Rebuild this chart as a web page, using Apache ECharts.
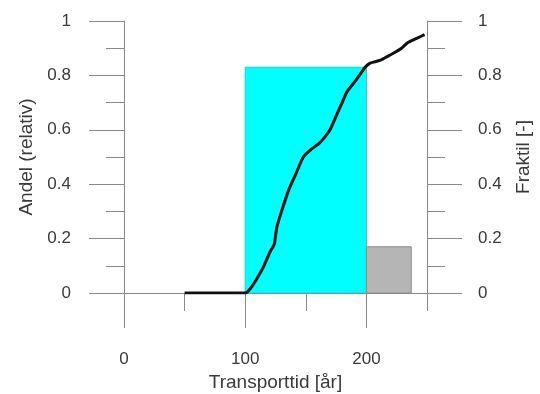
<!DOCTYPE html>
<html lang="no">
<head>
<meta charset="UTF-8">
<title>Transporttid</title>
<script src="https://cdn.jsdelivr.net/npm/echarts@6/dist/echarts.min.js"></script>
<style>
  html, body { margin: 0; padding: 0; background: #fff; }
  #main { width: 540px; height: 394px; }
</style>
</head>
<body>
<div id="main"></div>
<script>
// histogram bins (relative share)
var binStart = [100, 200];
var binEnd = [200, 237];
var binHeight = [0.83, 0.17];

// cumulative curve (fractile)
var curveX = [50, 100, 104, 109, 115, 120, 124, 126, 130, 136, 142, 148, 155, 161, 166, 170, 175, 180, 184, 191, 199, 203, 207, 211, 215, 220, 224, 229, 234, 241, 248];
var curveY = [0, 0, 0.015, 0.048, 0.095, 0.147, 0.18, 0.24, 0.30, 0.38, 0.44, 0.50, 0.53, 0.55, 0.575, 0.60, 0.65, 0.70, 0.74, 0.78, 0.83, 0.845, 0.85, 0.855, 0.864, 0.876, 0.886, 0.90, 0.92, 0.935, 0.95];

var xMajor = [0, 100, 200];
var xMinor = [50, 150, 250];

var axisGray = '#8a8a8a';
var textCol = '#3a3a3a';
var font = 'Liberation Sans';

var chart = echarts.init(document.getElementById('main'));

var curveData = [];
for (var i = 0; i < curveX.length; i++) {
	curveData.push([curveX[i], curveY[i]]);
}
var binData = [];
for (var j = 0; j < binStart.length; j++) {
	binData.push([binStart[j], binEnd[j], binHeight[j]]);
}
var binFill = ['#00ffff', '#b5b5b5'];
var binLine = ['#2bc4c4', '#8c8c8c'];

function yAxisCfg(pos, name) {
	return {
		type: 'value',
		position: pos,
		min: 0,
		max: 1,
		interval: 0.2,
		name: name,
		nameLocation: 'middle',
		nameGap: pos === 'left' ? 88 : 87,
		nameRotate: 90,
		nameTextStyle: { fontFamily: font, fontSize: 19, color: textCol },
		axisLine: { show: true, onZero: false, lineStyle: { color: axisGray, width: 1 } },
		axisTick: { show: true, length: 35, lineStyle: { color: axisGray } },
		minorTick: { show: true, splitNumber: 2, length: 18, lineStyle: { color: axisGray } },
		axisLabel: {
			margin: pos === 'left' ? 53 : 51,
			fontFamily: font, fontSize: 17, color: textCol,
			formatter: function (v) { return String(Math.round(v * 10) / 10); }
		},
		splitLine: { show: false },
		minorSplitLine: { show: false }
	};
}

var option = {
	animation: false,
	grid: { left: 124, right: 113, top: 21, bottom: 101, outerBoundsMode: 'none' },
	xAxis: [
		{
			type: 'value',
			position: 'bottom',
			min: 0,
			max: 250,
			interval: 100,
			name: 'Transporttid [år]',
			nameLocation: 'middle',
			nameGap: 78,
			nameTextStyle: { fontFamily: font, fontSize: 19, color: textCol },
			axisLine: { show: true, onZero: false, lineStyle: { color: axisGray, width: 1 } },
			axisTick: { show: true, length: 35, customValues: xMajor, lineStyle: { color: axisGray } },
			axisLabel: { customValues: xMajor, margin: 58, fontFamily: font, fontSize: 17, color: textCol },
			splitLine: { show: false }
		},
		{
			type: 'value',
			position: 'bottom',
			min: 0,
			max: 250,
			interval: 50,
			axisLine: { show: false, onZero: false },
			axisTick: { show: true, length: 18, customValues: xMinor, lineStyle: { color: axisGray } },
			axisLabel: { show: false },
			splitLine: { show: false }
		}
	],
	yAxis: [
		yAxisCfg('left', 'Andel (relativ)'),
		yAxisCfg('right', 'Fraktil [-]')
	],
	series: [
		{
			type: 'custom',
			xAxisIndex: 0,
			yAxisIndex: 0,
			z: 1,
			data: binData,
			renderItem: function (params, api) {
				var p0 = api.coord([api.value(0), 0]);
				var p1 = api.coord([api.value(1), api.value(2)]);
				return {
					type: 'rect',
					shape: { x: p0[0], y: p1[1], width: p1[0] - p0[0], height: p0[1] - p1[1] },
					style: { fill: binFill[params.dataIndex], stroke: binLine[params.dataIndex], lineWidth: 1 }
				};
			}
		},
		{
			type: 'line',
			xAxisIndex: 0,
			yAxisIndex: 1,
			z: 3,
			data: curveData,
			showSymbol: false,
			smooth: 0.2,
			lineStyle: { color: '#111', width: 3 }
		}
	]
};

chart.setOption(option);
</script>
</body>
</html>
